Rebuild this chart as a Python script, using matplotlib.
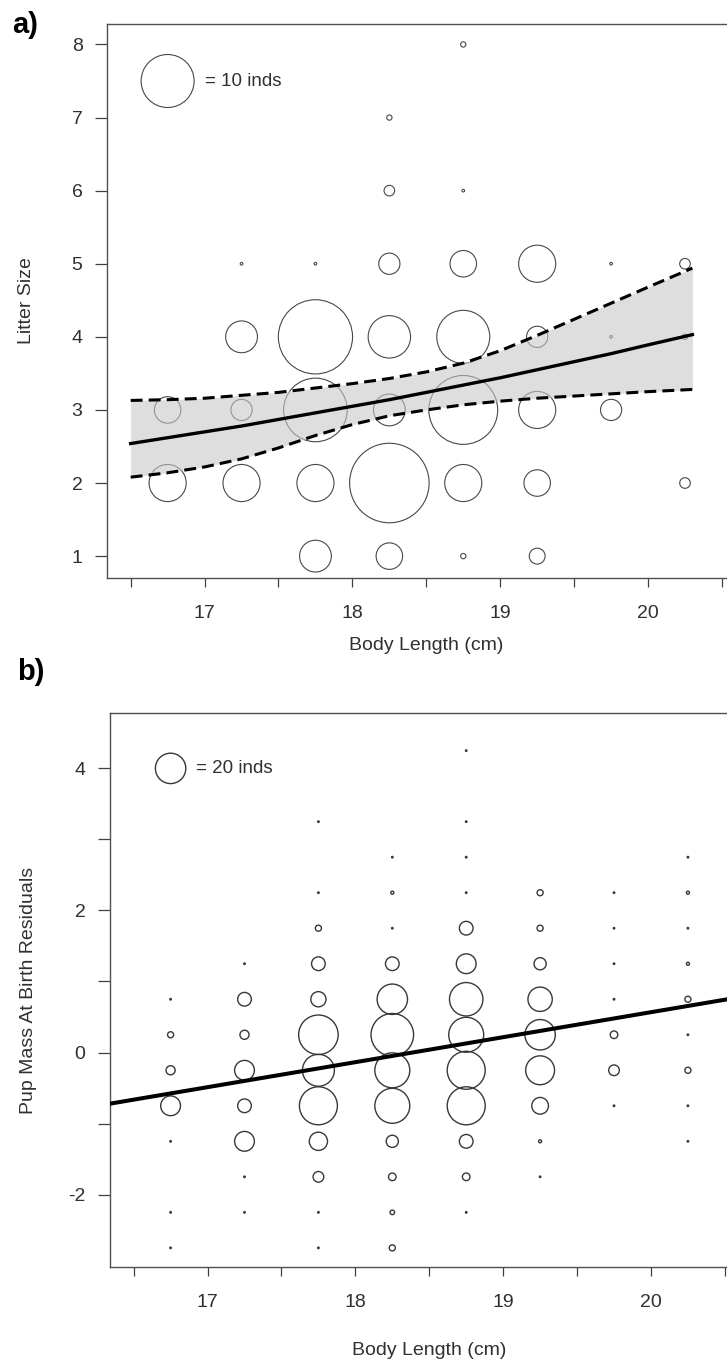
"""
Litter size / pup mass residuals vs body length, bubble plots (panels a and b)
"""
import numpy as np
import matplotlib.pyplot as plt

plt.rcParams['font.family'] = ['Liberation Sans', 'DejaVu Sans']

# ---- panel a: litter size (bubble = number of individuals) ----
a_x = [16.75, 16.75,
       17.25, 17.25, 17.25, 17.25,
       17.75, 17.75, 17.75, 17.75, 17.75,
       18.25, 18.25, 18.25, 18.25, 18.25, 18.25, 18.25,
       18.75, 18.75, 18.75, 18.75, 18.75, 18.75, 18.75,
       19.25, 19.25, 19.25, 19.25, 19.25,
       19.75, 19.75, 19.75,
       20.25, 20.25, 20.25]
a_y = [3, 2,
       5, 4, 3, 2,
       5, 4, 3, 2, 1,
       7, 6, 5, 4, 3, 2, 1,
       8, 6, 5, 4, 3, 2, 1,
       5, 4, 3, 2, 1,
       5, 4, 3,
       5, 4, 2]
a_n = [5, 7,
       0.5, 6, 4, 7,
       0.5, 14, 12, 7, 6,
       1, 2, 4, 8, 6, 15, 5,
       1, 0.5, 5, 10, 13, 7, 1,
       7, 4, 7, 5, 3,
       0.5, 0.5, 4,
       2, 1, 2]

# fitted curve with confidence band
fit_x = [16.5, 16.75, 17.0, 17.25, 17.5, 17.75, 18.0, 18.25, 18.5,
         18.75, 19.0, 19.25, 19.5, 19.75, 20.0, 20.3]
fit_mid = [2.54, 2.62, 2.70, 2.78, 2.87, 2.96, 3.05, 3.14, 3.24,
           3.34, 3.44, 3.55, 3.66, 3.77, 3.89, 4.03]
fit_lo = [2.08, 2.14, 2.22, 2.33, 2.48, 2.65, 2.80, 2.92, 3.00,
          3.07, 3.12, 3.16, 3.19, 3.22, 3.25, 3.28]
fit_hi = [3.13, 3.14, 3.16, 3.20, 3.24, 3.30, 3.36, 3.43, 3.52,
          3.64, 3.81, 4.02, 4.24, 4.46, 4.68, 4.94]

# ---- panel b: pup mass at birth residuals ----
b_x = [16.75] * 7 + [17.25] * 8 + [17.75] * 12 + [18.25] * 12 + \
      [18.75] * 13 + [19.25] * 9 + [19.75] * 7 + [20.25] * 9
b_y = [0.75, 0.25, -0.25, -0.75, -1.25, -2.25, -2.75,
       1.25, 0.75, 0.25, -0.25, -0.75, -1.25, -1.75, -2.25,
       3.25, 2.25, 1.75, 1.25, 0.75, 0.25, -0.25, -0.75, -1.25, -1.75, -2.25, -2.75,
       2.75, 2.25, 1.75, 1.25, 0.75, 0.25, -0.25, -0.75, -1.25, -1.75, -2.25, -2.75,
       4.25, 3.25, 2.75, 2.25, 1.75, 1.25, 0.75, 0.25, -0.25, -0.75, -1.25, -1.75, -2.25,
       2.25, 1.75, 1.25, 0.75, 0.25, -0.25, -0.75, -1.25, -1.75,
       2.25, 1.75, 1.25, 0.75, 0.25, -0.25, -0.75,
       2.75, 2.25, 1.75, 1.25, 0.75, 0.25, -0.25, -0.75, -1.25]
b_n = [1, 4, 6, 13, 1, 1, 1,
       1, 9, 6, 13, 9, 13, 1, 1,
       1, 1, 4, 9, 10, 26, 21, 25, 12, 7, 1, 1,
       1, 2, 1, 9, 20, 28, 23, 23, 8, 5, 3, 4,
       1, 1, 1, 1, 9, 13, 22, 23, 25, 25, 9, 5, 1,
       4, 4, 8, 16, 20, 19, 11, 2, 1,
       1, 1, 1, 1, 5, 7, 1,
       1, 2, 1, 2, 4, 1, 4, 1, 1]

b_line_x = [16.34, 20.66]
b_line_y = [-0.72, 0.80]

x_ticks = [16.5, 17.0, 17.5, 18.0, 18.5, 19.0, 19.5, 20.0, 20.5]
x_labels = ['', '17', '', '18', '', '19', '', '20', '']
a_yticks = [1, 2, 3, 4, 5, 6, 7, 8]
b_yticks = [-2, -1, 0, 1, 2, 3, 4]
b_ylabels = ['-2', '', '0', '', '2', '', '4']

DPI = 100
PX_PER_IND_A = 5.3   # circle diameter (px) per individual
PX_PER_IND_B = 1.52


def bubble_size(n, px_per_ind):
    d_pt = np.asarray(n, dtype=float) * px_per_ind * 72.0 / DPI
    return d_pt ** 2


def style_axes(ax):
    for sp in ax.spines.values():
        sp.set_color('#505050')
        sp.set_linewidth(1.0)
    ax.set_xlim(16.34, 20.66)
    ax.set_xticks(x_ticks)
    ax.set_xticklabels(x_labels)
    ax.tick_params(axis='x', length=6.5, width=0.9, color='#404040', pad=13,
                   labelsize=14, labelcolor='#303030')
    ax.tick_params(axis='y', length=8.6, width=0.9, color='#404040', pad=9,
                   labelsize=14, labelcolor='#303030')
    ax.xaxis.label.set_va('center')
    ax.yaxis.label.set_va('center')


fig = plt.figure(figsize=(7.27, 13.63), dpi=DPI)

# ---------------- panel a ----------------
ax = fig.add_axes([0.1472, 0.5759, 0.8784, 0.4065])
ax.scatter(a_x, a_y, s=bubble_size(a_n, PX_PER_IND_A), facecolors='none',
           edgecolors='#484848', linewidths=0.8, zorder=2)
ax.fill_between(fit_x, fit_lo, fit_hi, color='#c8c8c8', alpha=0.6,
                linewidth=0, zorder=3)
ax.plot(fit_x, fit_mid, color='black', lw=2.4, zorder=4)
ax.plot(fit_x, fit_lo, color='black', lw=2.2, ls=(0, (3.9, 2.0)), zorder=4)
ax.plot(fit_x, fit_hi, color='black', lw=2.2, ls=(0, (3.9, 2.0)), zorder=4)
# size key
ax.scatter([16.75], [7.5], s=bubble_size([10], PX_PER_IND_A), facecolors='none',
           edgecolors='#484848', linewidths=0.8, zorder=2)
ax.text(17.0, 7.5, '= 10 inds', ha='left', va='center', fontsize=13.5,
        color='#303030')
ax.set_ylim(0.70, 8.28)
ax.set_yticks(a_yticks)
style_axes(ax)
ax.set_xlabel('Body Length (cm)', fontsize=14, color='#303030')
ax.set_ylabel('Litter Size', fontsize=14, color='#303030')
ax.xaxis.set_label_coords(0.5, -0.121)
ax.yaxis.set_label_coords(-0.1257, 0.5)

# ---------------- panel b ----------------
ax = fig.add_axes([0.1513, 0.0704, 0.8783, 0.4065])
ax.scatter(b_x, b_y, s=bubble_size(b_n, PX_PER_IND_B), facecolors='none',
           edgecolors='#383838', linewidths=1.0, zorder=2)
ax.plot(b_line_x, b_line_y, color='black', lw=2.9, zorder=4)
ax.scatter([16.75], [4.0], s=bubble_size([20], PX_PER_IND_B), facecolors='none',
           edgecolors='#383838', linewidths=1.0, zorder=2)
ax.text(16.92, 4.0, '= 20 inds', ha='left', va='center', fontsize=13.5,
        color='#303030')
ax.set_ylim(-3.02, 4.78)
ax.set_yticks(b_yticks)
ax.set_yticklabels(b_ylabels)
style_axes(ax)
ax.set_xlabel('Body Length (cm)', fontsize=14, color='#303030')
ax.set_ylabel('Pup Mass At Birth Residuals', fontsize=14, color='#303030')
ax.xaxis.set_label_coords(0.5, -0.150)
ax.yaxis.set_label_coords(-0.128, 0.5)

# panel letters
fig.text(12 / 727, 1 - 11 / 1363, 'a)', ha='left', va='top', fontsize=21,
         fontweight='bold')
fig.text(17 / 727, 1 - 658 / 1363, 'b)', ha='left', va='top', fontsize=21,
         fontweight='bold')

fig.savefig('out.png', dpi=DPI)
